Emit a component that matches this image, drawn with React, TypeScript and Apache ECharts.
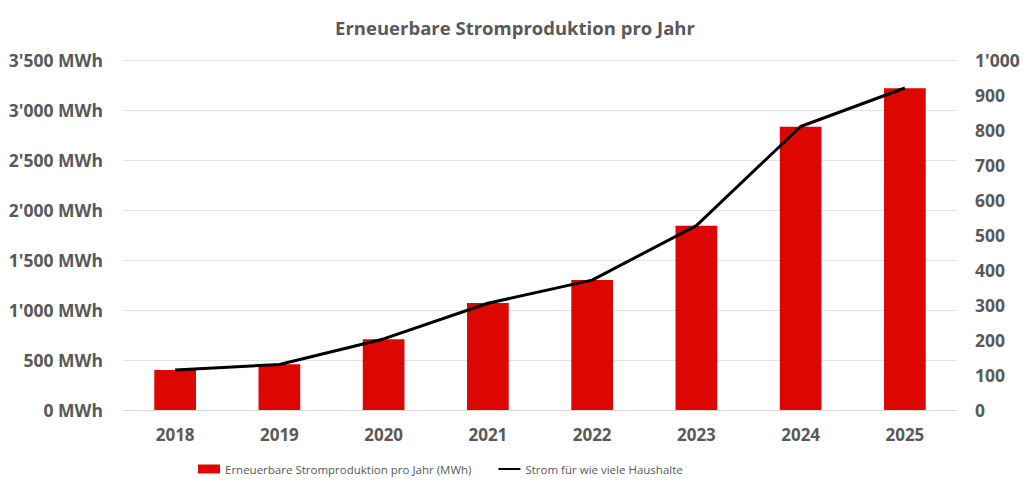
import React, { useEffect, useRef } from "react";
import * as echarts from "echarts";

const years = ["2018", "2019", "2020", "2021", "2022", "2023", "2024", "2025"];
const productionMWh = [400, 457, 708, 1070, 1300, 1843, 2833, 3218];
const households = [114, 130, 203, 305, 371, 527, 810, 920];
const titleText = "Erneuerbare Stromproduktion pro Jahr";
const barName = "Erneuerbare Stromproduktion pro Jahr (MWh)";
const lineName = "Strom für wie viele Haushalte";

const FONT = "'Open Sans', sans-serif";
const GRAY = "#595959";

function fmtThousands(v: number): string {
  const s = String(Math.round(v));
  return s.replace(/\B(?=(\d{3})+(?!\d))/g, "'");
}

export default function App() {
  const ref = useRef<HTMLDivElement>(null);
  useEffect(() => {
    if (!ref.current) return;
    const chart = echarts.init(ref.current, undefined, { renderer: "svg" });
    chart.setOption({
      animation: false,
      backgroundColor: "#ffffff",
      title: {
        text: titleText,
        left: "center",
        top: 13,
        textStyle: { fontFamily: FONT, fontSize: 18.5, fontWeight: "bold", color: GRAY },
      },
      legend: {
        top: 458,
        left: 193,
        itemGap: 26,
        itemWidth: 22,
        itemHeight: 9,
        textStyle: { fontFamily: FONT, fontSize: 11.5, color: GRAY },
        data: [
          { name: barName, icon: "rect" },
          { name: lineName, itemStyle: { opacity: 0 } },
        ],
      },
      grid: { left: 123, right: 73, top: 60, bottom: 86 },
      xAxis: {
        type: "category",
        data: years,
        axisLine: { lineStyle: { color: "#d9d9d9", width: 1 } },
        axisTick: { show: false },
        axisLabel: {
          margin: 16,
          fontFamily: FONT,
          fontSize: 17,
          fontWeight: "bold",
          color: GRAY,
        },
      },
      yAxis: [
        {
          type: "value",
          min: 0,
          max: 3500,
          interval: 500,
          axisLine: { show: false },
          axisTick: { show: false },
          splitLine: { lineStyle: { color: "#e3e3e3", width: 1 } },
          axisLabel: {
            margin: 20,
            fontFamily: FONT,
            fontSize: 17.5,
            fontWeight: "bold",
            color: GRAY,
            formatter: (v: number) => fmtThousands(v) + " MWh",
          },
        },
        {
          type: "value",
          min: 0,
          max: 1000,
          interval: 100,
          position: "right",
          axisLine: { show: false },
          axisTick: { show: false },
          splitLine: { show: false },
          axisLabel: {
            margin: 18,
            fontFamily: FONT,
            fontSize: 17.5,
            fontWeight: "bold",
            color: GRAY,
            formatter: (v: number) => fmtThousands(v),
          },
        },
      ],
      series: [
        {
          name: barName,
          type: "bar",
          data: productionMWh,
          yAxisIndex: 0,
          barWidth: "40%",
          itemStyle: { color: "#dc0700" },
        },
        {
          name: lineName,
          type: "line",
          data: households,
          yAxisIndex: 1,
          symbol: "none",
          lineStyle: { color: "#000000", width: 3 },
          itemStyle: { color: "#000000" },
        },
      ],
    });
    return () => chart.dispose();
  }, []);
  return (
    <div
      ref={ref}
      style={{ position: "fixed", left: 0, top: 0, width: 1030, height: 496, background: "#fff" }}
    />
  );
}
